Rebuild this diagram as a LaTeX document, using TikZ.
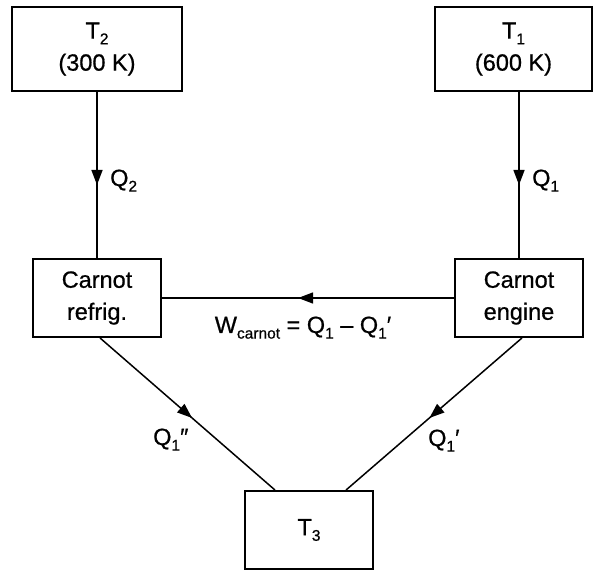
\documentclass[tikz,border=0pt]{standalone}
\usepackage{fontspec}
\setmainfont{Liberation Sans}[FakeBold=0.7]
\usetikzlibrary{arrows.meta,decorations.markings}
\newcommand\lsub[1]{\raisebox{-0.45ex}{\fontsize{15.5}{15.5}\selectfont #1}}
\begin{document}
\begin{tikzpicture}[x=1pt,y=1pt,
  every node/.style={font=\fontsize{23.5}{32}\selectfont},
  box/.style={draw, line width=1.9pt, minimum width=128pt, minimum height=78pt, inner sep=0pt, align=center},
  flow/.style={line width=1.5pt, postaction={decorate},
    decoration={markings, mark=at position #1 with {\arrow{Triangle[length=15pt,width=11pt]}}}},
  lbl/.style={inner sep=0pt}]
\useasboundingbox (0,0) rectangle (594,570);
\node[box, minimum width=170pt, minimum height=84pt] (t2) at (97,521) {T\lsub{2}\\(300 K)};
\node[box, minimum width=157pt, minimum height=84pt] (t1) at (513.5,521) {T\lsub{1}\\(600 K)};
\node[box] (ref) at (97,272) {Carnot\\refrig.};
\node[box] (eng) at (519,272) {Carnot\\engine};
\node[box] (t3) at (309,40) {T\lsub{3}};
\draw[flow=0.56] (t2.south) -- (ref.north);
\draw[flow=0.56] (eng.north |- t1.south) -- (eng.north);
\draw[flow=0.534] (eng.west) -- (ref.east);
\draw[flow=0.526] ([xshift=3pt]ref.south) -- ([xshift=-34pt]t3.north);
\draw[flow=0.526] ([xshift=3pt]eng.south) -- ([xshift=37pt]t3.north);
\node[lbl, anchor=base west] (lq2) at (110,384) {Q\lsub{2}};
\node[lbl, anchor=base west] (lq1) at (532,384) {Q\lsub{1}};
\node[lbl, anchor=base] (lw) at (303,237) {W\lsub{carnot} = Q\lsub{1} – Q\lsub{1}′};
\node[lbl, anchor=base west] (lq1b) at (153,125) {Q\lsub{1}″};
\node[lbl, anchor=base west] (lq1a) at (428,124) {Q\lsub{1}′};
\end{tikzpicture}
\end{document}
